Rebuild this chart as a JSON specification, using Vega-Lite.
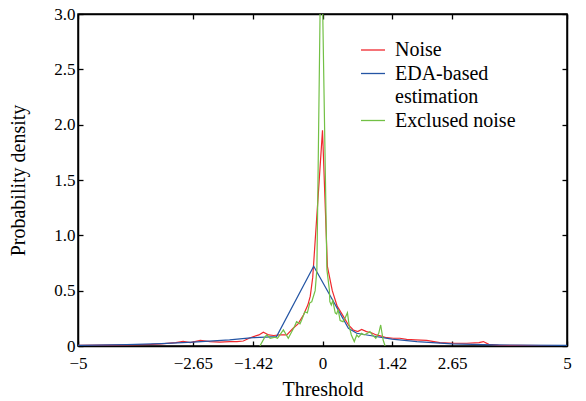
{
  "$schema": "https://vega.github.io/schema/vega-lite/v6.json",
  "width": 489,
  "height": 332,
  "autosize": {"type": "none"},
  "padding": {"left": 78, "top": 14, "right": 19, "bottom": 55},
  "background": "white",
  "config": {
    "view": {"stroke": "black", "strokeWidth": 1.5},
    "font": "Liberation Serif"
  },
  "data": {
    "values": [
      {"series": "Noise", "x": -5, "y": 0.005},
      {"series": "Noise", "x": -4.5, "y": 0.008},
      {"series": "Noise", "x": -4.0, "y": 0.01},
      {"series": "Noise", "x": -3.5, "y": 0.015},
      {"series": "Noise", "x": -3.3, "y": 0.02},
      {"series": "Noise", "x": -3.0, "y": 0.03},
      {"series": "Noise", "x": -2.85, "y": 0.042},
      {"series": "Noise", "x": -2.7, "y": 0.03},
      {"series": "Noise", "x": -2.5, "y": 0.05},
      {"series": "Noise", "x": -2.3, "y": 0.04},
      {"series": "Noise", "x": -2.1, "y": 0.035},
      {"series": "Noise", "x": -1.9, "y": 0.04},
      {"series": "Noise", "x": -1.75, "y": 0.04},
      {"series": "Noise", "x": -1.62, "y": 0.045},
      {"series": "Noise", "x": -1.5, "y": 0.07},
      {"series": "Noise", "x": -1.41, "y": 0.085},
      {"series": "Noise", "x": -1.3, "y": 0.1},
      {"series": "Noise", "x": -1.21, "y": 0.125},
      {"series": "Noise", "x": -1.1, "y": 0.1},
      {"series": "Noise", "x": -1.0, "y": 0.095},
      {"series": "Noise", "x": -0.87, "y": 0.1},
      {"series": "Noise", "x": -0.73, "y": 0.1},
      {"series": "Noise", "x": -0.6, "y": 0.16},
      {"series": "Noise", "x": -0.5, "y": 0.2},
      {"series": "Noise", "x": -0.39, "y": 0.28},
      {"series": "Noise", "x": -0.3, "y": 0.37},
      {"series": "Noise", "x": -0.25, "y": 0.45},
      {"series": "Noise", "x": -0.2, "y": 0.62},
      {"series": "Noise", "x": -0.1, "y": 1.28},
      {"series": "Noise", "x": 0, "y": 1.95},
      {"series": "Noise", "x": 0.1, "y": 0.72},
      {"series": "Noise", "x": 0.2, "y": 0.5},
      {"series": "Noise", "x": 0.3, "y": 0.36},
      {"series": "Noise", "x": 0.43, "y": 0.265},
      {"series": "Noise", "x": 0.53, "y": 0.19},
      {"series": "Noise", "x": 0.63, "y": 0.145},
      {"series": "Noise", "x": 0.72, "y": 0.13},
      {"series": "Noise", "x": 0.8, "y": 0.15},
      {"series": "Noise", "x": 0.9, "y": 0.13},
      {"series": "Noise", "x": 1.0, "y": 0.12},
      {"series": "Noise", "x": 1.1, "y": 0.1},
      {"series": "Noise", "x": 1.2, "y": 0.09},
      {"series": "Noise", "x": 1.31, "y": 0.075},
      {"series": "Noise", "x": 1.45, "y": 0.07},
      {"series": "Noise", "x": 1.58, "y": 0.07},
      {"series": "Noise", "x": 1.72, "y": 0.06},
      {"series": "Noise", "x": 1.9, "y": 0.055},
      {"series": "Noise", "x": 2.13, "y": 0.05},
      {"series": "Noise", "x": 2.4, "y": 0.03},
      {"series": "Noise", "x": 2.7, "y": 0.025},
      {"series": "Noise", "x": 2.95, "y": 0.025},
      {"series": "Noise", "x": 3.2, "y": 0.03},
      {"series": "Noise", "x": 3.29, "y": 0.04},
      {"series": "Noise", "x": 3.4, "y": 0.015},
      {"series": "Noise", "x": 3.6, "y": 0.008},
      {"series": "Noise", "x": 4.0, "y": 0.005},
      {"series": "Noise", "x": 4.5, "y": 0.004},
      {"series": "Noise", "x": 5, "y": 0.003},
      {"series": "EDA-based estimation", "x": -5, "y": 0.005},
      {"series": "EDA-based estimation", "x": -4, "y": 0.012},
      {"series": "EDA-based estimation", "x": -3.3, "y": 0.022},
      {"series": "EDA-based estimation", "x": -2.65, "y": 0.035},
      {"series": "EDA-based estimation", "x": -1.9, "y": 0.055},
      {"series": "EDA-based estimation", "x": -1.42, "y": 0.075},
      {"series": "EDA-based estimation", "x": -0.94, "y": 0.085},
      {"series": "EDA-based estimation", "x": -0.18, "y": 0.72},
      {"series": "EDA-based estimation", "x": 0.53, "y": 0.16},
      {"series": "EDA-based estimation", "x": 0.7, "y": 0.115},
      {"series": "EDA-based estimation", "x": 0.97, "y": 0.095},
      {"series": "EDA-based estimation", "x": 1.42, "y": 0.062},
      {"series": "EDA-based estimation", "x": 1.93, "y": 0.04},
      {"series": "EDA-based estimation", "x": 2.65, "y": 0.02},
      {"series": "EDA-based estimation", "x": 3.5, "y": 0.01},
      {"series": "EDA-based estimation", "x": 5, "y": 0.005},
      {"series": "Exclused noise", "x": -1.28, "y": 0},
      {"series": "Exclused noise", "x": -1.18, "y": 0.08},
      {"series": "Exclused noise", "x": -1.14, "y": 0.1},
      {"series": "Exclused noise", "x": -1.07, "y": 0.07},
      {"series": "Exclused noise", "x": -0.97, "y": 0.08},
      {"series": "Exclused noise", "x": -0.92, "y": 0.07},
      {"series": "Exclused noise", "x": -0.87, "y": 0.1},
      {"series": "Exclused noise", "x": -0.8, "y": 0.145},
      {"series": "Exclused noise", "x": -0.7, "y": 0.07},
      {"series": "Exclused noise", "x": -0.64, "y": 0.12},
      {"series": "Exclused noise", "x": -0.58, "y": 0.17},
      {"series": "Exclused noise", "x": -0.53, "y": 0.22},
      {"series": "Exclused noise", "x": -0.46, "y": 0.2},
      {"series": "Exclused noise", "x": -0.43, "y": 0.23},
      {"series": "Exclused noise", "x": -0.36, "y": 0.31},
      {"series": "Exclused noise", "x": -0.31, "y": 0.3},
      {"series": "Exclused noise", "x": -0.26, "y": 0.39},
      {"series": "Exclused noise", "x": -0.22, "y": 0.4},
      {"series": "Exclused noise", "x": -0.15, "y": 0.5},
      {"series": "Exclused noise", "x": -0.115, "y": 0.69},
      {"series": "Exclused noise", "x": -0.026, "y": 3.85},
      {"series": "Exclused noise", "x": 0.09, "y": 0.69},
      {"series": "Exclused noise", "x": 0.14, "y": 0.51},
      {"series": "Exclused noise", "x": 0.15, "y": 0.4},
      {"series": "Exclused noise", "x": 0.18, "y": 0.37},
      {"series": "Exclused noise", "x": 0.21, "y": 0.41},
      {"series": "Exclused noise", "x": 0.26, "y": 0.3},
      {"series": "Exclused noise", "x": 0.29, "y": 0.29},
      {"series": "Exclused noise", "x": 0.32, "y": 0.33},
      {"series": "Exclused noise", "x": 0.36, "y": 0.23},
      {"series": "Exclused noise", "x": 0.42, "y": 0.22},
      {"series": "Exclused noise", "x": 0.46, "y": 0.25},
      {"series": "Exclused noise", "x": 0.51, "y": 0.3},
      {"series": "Exclused noise", "x": 0.55, "y": 0.17},
      {"series": "Exclused noise", "x": 0.59, "y": 0.1},
      {"series": "Exclused noise", "x": 0.65, "y": 0.04},
      {"series": "Exclused noise", "x": 0.7, "y": 0.1},
      {"series": "Exclused noise", "x": 0.74, "y": 0.08},
      {"series": "Exclused noise", "x": 0.8, "y": 0.115},
      {"series": "Exclused noise", "x": 0.85, "y": 0.1},
      {"series": "Exclused noise", "x": 0.92, "y": 0.115},
      {"series": "Exclused noise", "x": 0.97, "y": 0.13},
      {"series": "Exclused noise", "x": 1.02, "y": 0.1},
      {"series": "Exclused noise", "x": 1.09, "y": 0.07},
      {"series": "Exclused noise", "x": 1.15, "y": 0.115},
      {"series": "Exclused noise", "x": 1.19, "y": 0.19},
      {"series": "Exclused noise", "x": 1.24, "y": 0.054},
      {"series": "Exclused noise", "x": 1.28, "y": 0}
    ]
  },
  "layer": [
    {
      "mark": {"type": "line", "strokeWidth": 1.2, "clip": true},
      "encoding": {
        "x": {
          "field": "x", "type": "quantitative",
          "scale": {"domain": [-5, 5], "nice": false, "zero": false},
          "axis": {
            "orient": "bottom",
            "values": [-5, -2.65, -1.42, 0, 1.42, 2.65, 5],
            "labelExpr": "replace(format(datum.value, '~g'), '-', '− ')",
            "tickSize": -5, "tickWidth": 1.3, "tickColor": "black",
            "domainColor": "black", "domainWidth": 1.5,
            "labelFontSize": 17, "labelFont": "Liberation Serif", "labelColor": "black",
            "labelPadding": 14, "labelFlush": false, "labelOverlap": false,
            "grid": false,
            "title": "Threshold", "titleFont": "Liberation Serif", "titleFontSize": 20,
            "titleFontWeight": "normal", "titleColor": "black", "titlePadding": 8
          }
        },
        "y": {
          "field": "y", "type": "quantitative",
          "scale": {"domain": [0, 3], "nice": false},
          "axis": {
            "orient": "left",
            "values": [0, 0.5, 1, 1.5, 2, 2.5, 3],
            "labelExpr": "datum.value == 0 ? '0' : format(datum.value, '.1f')",
            "tickSize": -5, "tickWidth": 1.3, "tickColor": "black",
            "domainColor": "black", "domainWidth": 1.5,
            "labelFontSize": 17, "labelFont": "Liberation Serif", "labelColor": "black",
            "labelPadding": 8, "labelFlush": false, "labelOverlap": false,
            "grid": false,
            "title": "Probability density", "titleFont": "Liberation Serif", "titleFontSize": 20,
            "titleFontWeight": "normal", "titleColor": "black", "titlePadding": 25
          }
        },
        "color": {
          "field": "series", "type": "nominal",
          "scale": {
            "domain": ["Noise", "EDA-based estimation", "estimation", "Exclused noise"],
            "range": ["#f0282d", "#2455a4", "transparent", "#72c045"]
          },
          "legend": {
            "orient": "none", "legendX": 282, "legendY": 23,
            "title": null, "padding": 0,
            "symbolType": "stroke", "symbolSize": 576, "symbolStrokeWidth": 1.3,
            "labelFont": "Liberation Serif", "labelFontSize": 20, "labelColor": "black",
            "labelOffset": 9, "rowPadding": 0.5, "labelLimit": 300,
            "labelExpr": "datum.label == 'EDA-based estimation' ? 'EDA-based' : datum.label"
          }
        }
      }
    },
    {
      "mark": {"type": "line", "opacity": 0, "clip": true},
      "encoding": {
        "x": {
          "field": "x", "type": "quantitative",
          "axis": {
            "orient": "top",
            "values": [-5, -2.65, -1.42, 0, 1.42, 2.65, 5],
            "labels": false, "title": null, "grid": false,
            "tickSize": -5, "tickWidth": 1.3, "tickColor": "black",
            "domainColor": "black", "domainWidth": 1.5
          }
        },
        "y": {
          "field": "y", "type": "quantitative",
          "axis": {
            "orient": "right",
            "values": [0, 0.5, 1, 1.5, 2, 2.5, 3],
            "labels": false, "title": null, "grid": false,
            "tickSize": -5, "tickWidth": 1.3, "tickColor": "black",
            "domainColor": "black", "domainWidth": 1.5
          }
        },
        "detail": {"field": "series", "type": "nominal"}
      }
    }
  ],
  "resolve": {"axis": {"x": "independent", "y": "independent"}}
}
